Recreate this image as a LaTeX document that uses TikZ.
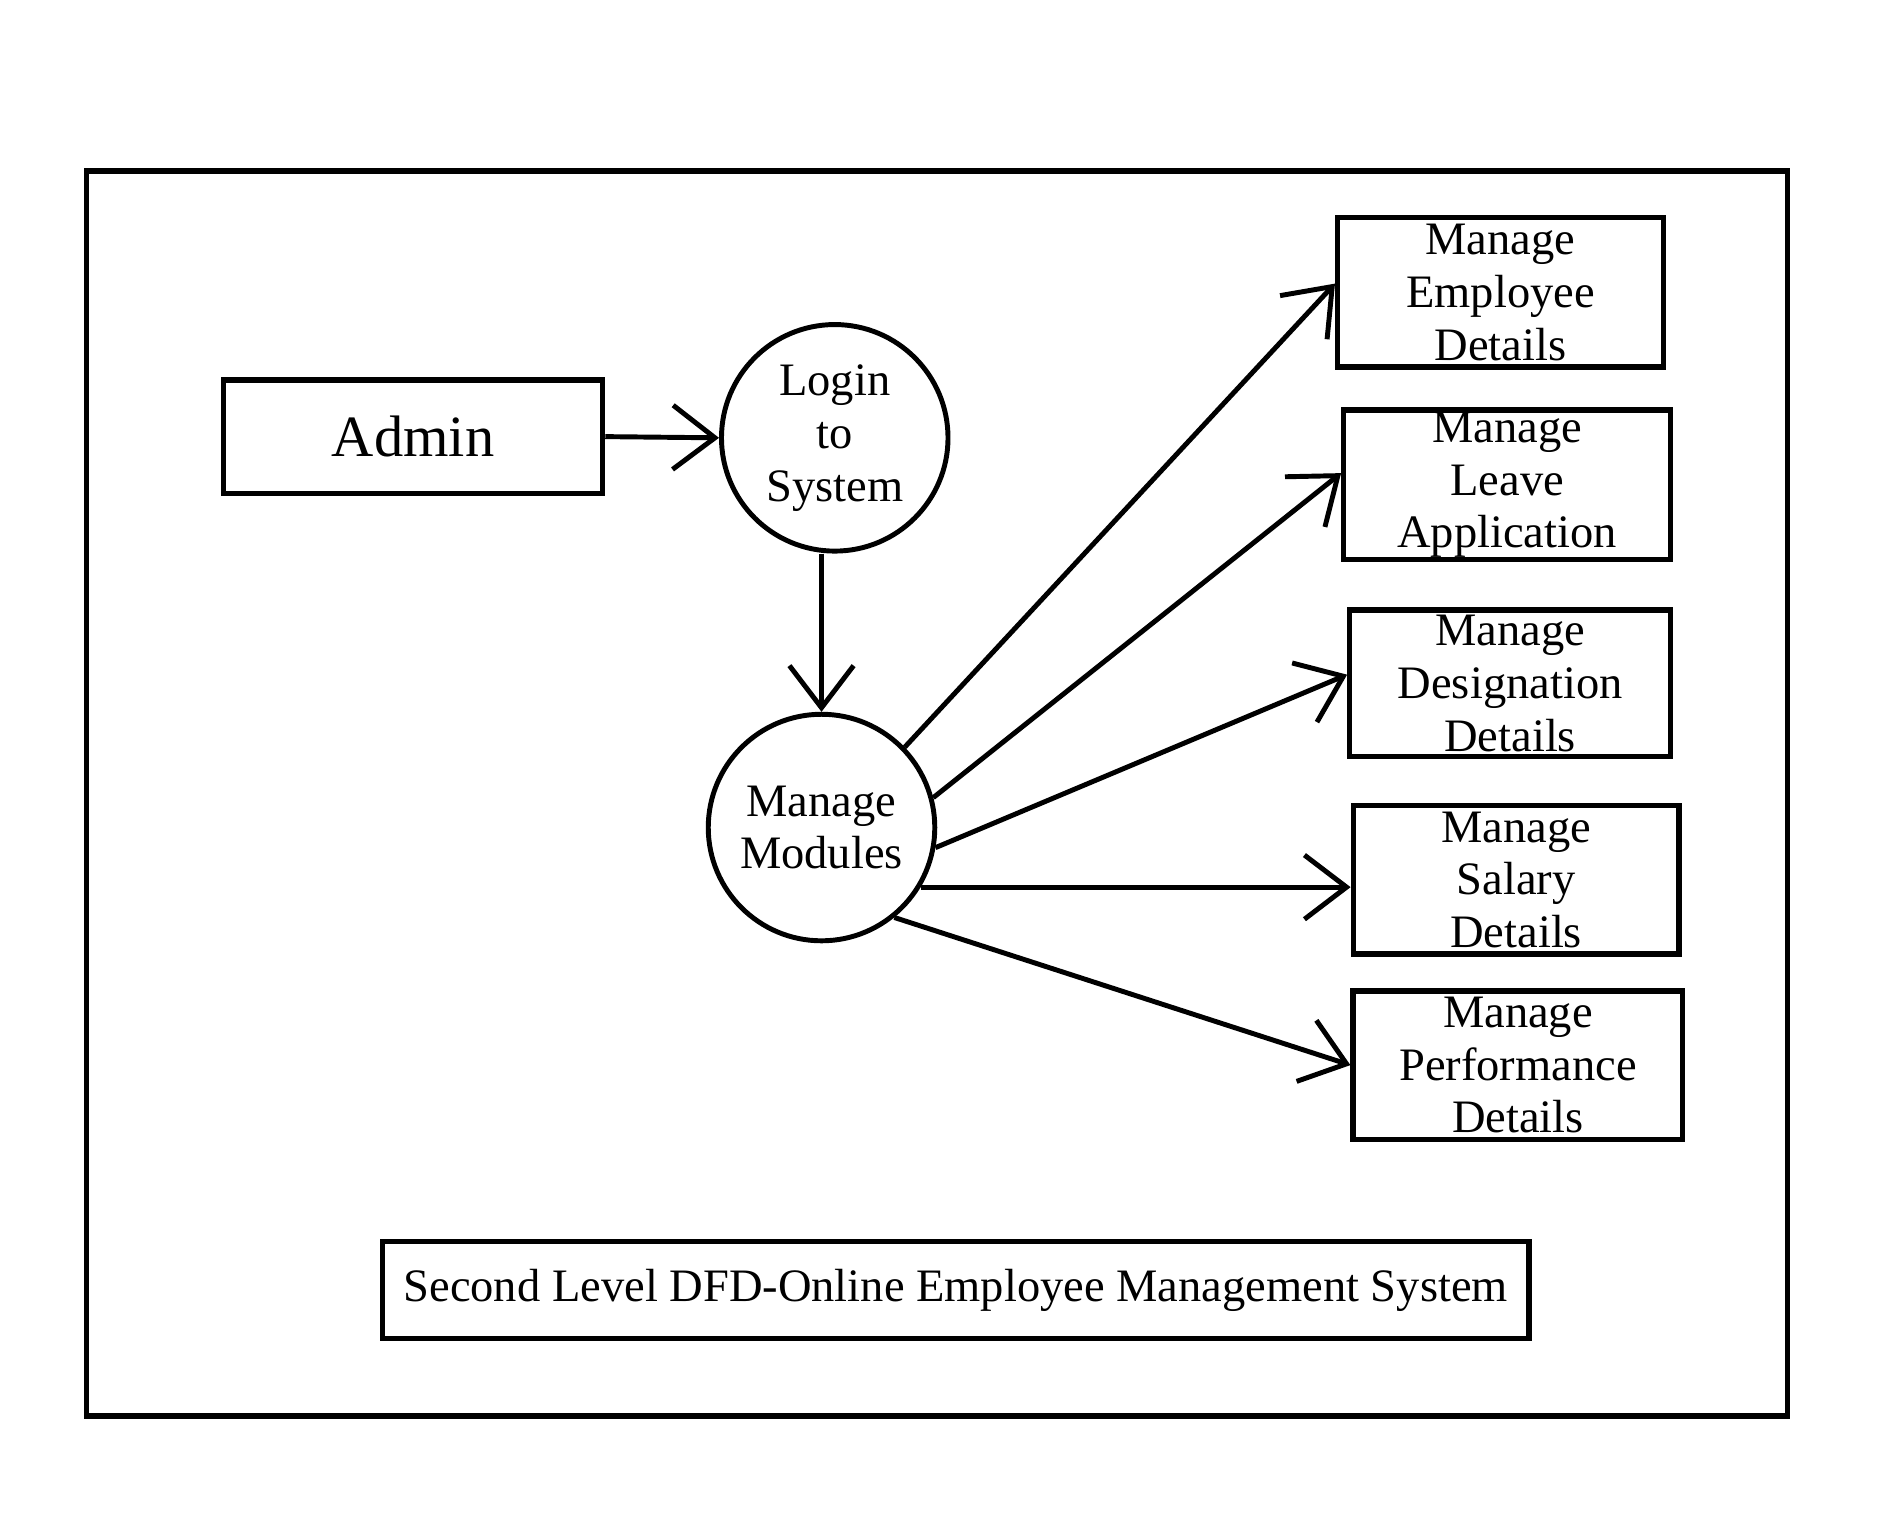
\documentclass[tikz,border=0pt]{standalone}
\usepackage{fontspec}
\setmainfont{Liberation Serif}
\usetikzlibrary{arrows.meta}

\tikzset{
  proc/.style={draw,circle,line width=1.4pt,minimum size=22.6mm,inner sep=0pt,align=center,
    font=\fontsize{13.2}{15}\selectfont},
  ent/.style={draw,rectangle,line width=1.5pt,inner sep=0pt,align=center,
    font=\fontsize{13.2}{15}\selectfont},
  flow/.style={line width=1.4pt,-{Straight Barb[length=4.2mm,width=6.4mm]}}
}

\begin{document}
\begin{tikzpicture}[x=0.12mm,y=-0.12mm]
\useasboundingbox (0,0) rectangle (1568,1277);

% outer frame
\draw[line width=1.6pt] (72,142) rectangle (1486,1177);

\node[ent,minimum width=37.8mm,minimum height=11.3mm,font=\fontsize{16.6}{20}\selectfont]
  (admin) at (343.5,363) {Admin};

\node[proc] (login) at (694,364) {Login\\to\\System};
\node[proc] (modules) at (683,688) {Manage\\Modules};

\node[ent,minimum width=32.5mm,minimum height=14.9mm] (empl) at (1247.5,243) {Manage\\Employee\\Details};
\node[ent,minimum width=32.6mm,minimum height=14.9mm] (leave) at (1253,403) {Manage\\Leave\\Application};
\node[ent,minimum width=32.0mm,minimum height=14.6mm] (desig) at (1255.5,568) {Manage\\Designation\\Details};
\node[ent,minimum width=32.5mm,minimum height=14.8mm] (salary) at (1260.5,731.5) {Manage\\Salary\\Details};
\node[ent,minimum width=32.9mm,minimum height=14.8mm] (perf) at (1262,885.5) {Manage\\Performance\\Details};

\node[ent,minimum width=114.4mm,minimum height=9.7mm] (title) at (794.5,1072.5)
  {Second Level DFD-Online Employee Management System};

\draw[flow] (admin.east) -- (login.west);
\draw[flow] (modules.north |- login.south) -- (modules.north);

\draw[flow] (modules.44) -- (empl.177);
\draw[flow] (modules.15) -- (leave.176);
\draw[flow] (modules.-10) -- (desig.177);
\draw[flow] (modules.-31) -- (modules.-31 -| salary.west);
\draw[flow] (modules.-51) -- (perf.west);

\end{tikzpicture}
\end{document}
